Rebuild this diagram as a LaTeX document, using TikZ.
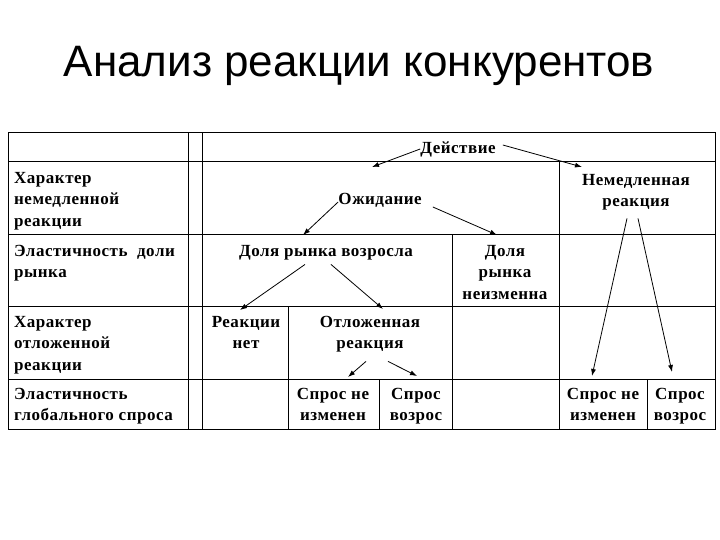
\documentclass[tikz,border=0pt]{standalone}
\usepackage{fontspec}
\setmainfont{Liberation Serif}
\newfontfamily\titlefont{Liberation Sans}
\newfontfamily\cellfont[LetterSpace=3]{Liberation Serif}
\usetikzlibrary{arrows.meta,calc}
\begin{document}
\begin{tikzpicture}[x=1pt,y=-1pt,
  grid/.style={line width=1pt},
  txt/.style={font=\cellfont\bfseries\fontsize{17}{21.5}\selectfont, inner sep=0pt, align=center},
  ltxt/.style={txt, align=left, anchor=west},
  arr/.style={line width=0.8pt, -{Latex[length=7pt,width=5pt]}}]
\useasboundingbox (0,0) rectangle (720,540);
\node[font=\titlefont\fontsize{44}{50}\selectfont, anchor=base, inner sep=0pt] (title) at (359,77) {Анализ реакции конкурентов};
% grid
\draw[grid] (8,133) rectangle (715,429);
\draw[grid] (188,133) -- (188,429);
\draw[grid] (202,133) -- (202,429);
\foreach \y in {162,234,306,379} \draw[grid] (8,\y) -- (715,\y);
\draw[grid] (559,162) -- (559,429);
\draw[grid] (452,234) -- (452,429);
\draw[grid] (288,306) -- (288,429);
\draw[grid] (379,379) -- (379,429);
\draw[grid] (647,379) -- (647,429);
% left column
\node[ltxt] (l1) at (14,200.5) {\strut Характер\\\strut немедленной\\\strut реакции};
\node[ltxt] (l2) at (14,262.7) {\strut Эластичность\ \ доли\\\strut рынка};
\node[ltxt] (l3) at (14,344.5) {\strut Характер\\\strut отложенной\\\strut реакции};
\node[ltxt] (l4) at (14,405.7) {\strut Эластичность\\\strut глобального спроса};
% body
\node[txt] (act) at (458,149) {\strut Действие};
\node[txt] (exp) at (380,200) {\strut Ожидание};
\node[txt] (imm) at (636,191.7) {\strut Немедленная\\\strut реакция};
\node[txt] (grew) at (326,252) {\strut Доля рынка возросла};
\node[txt] (same) at (505,273.5) {\strut Доля\\\strut рынка\\\strut неизменна};
\node[txt] (none) at (246,333.7) {\strut Реакции\\\strut нет};
\node[txt] (del) at (370,333.7) {\strut Отложенная\\\strut реакция};
\node[txt] (d1) at (333,405.7) {\strut Спрос не\\\strut изменен};
\node[txt] (d2) at (416,405.7) {\strut Спрос\\\strut возрос};
\node[txt] (i1) at (603,405.7) {\strut Спрос не\\\strut изменен};
\node[txt] (i2) at (680,405.7) {\strut Спрос\\\strut возрос};
% arrow tips
\coordinate (t1) at (372,167);
\coordinate (t2) at (582,167);
\coordinate (t3) at (303,235);
\coordinate (t4) at (497,235);
\coordinate (t5) at (240,310);
\coordinate (t6) at (383,309);
\coordinate (t7) at (348,377);
\coordinate (t8) at (417,376);
\coordinate (t9) at (592,376);
\coordinate (t10) at (672,372);
\draw[arr] (act.west) -- (t1);
\draw[arr] ($(act.east)+(7,-4)$) -- (t2);
\draw[arr] ($(exp.west)+(0,2)$) -- (t3);
\draw[arr] ($(exp.east)+(11,7)$) -- (t4);
\draw[arr] ($(grew.south)+(-21,1.5)$) -- (t5);
\draw[arr] ($(grew.south)+(5,1.5)$) -- (t6);
\draw[arr] ($(del.south)+(-4,6)$) -- (t7);
\draw[arr] ($(del.south)+(18,6)$) -- (t8);
\draw[arr] ($(imm.south)+(-9,5)$) -- (t9);
\draw[arr] ($(imm.south)+(2,5)$) -- (t10);
\end{tikzpicture}
\end{document}
